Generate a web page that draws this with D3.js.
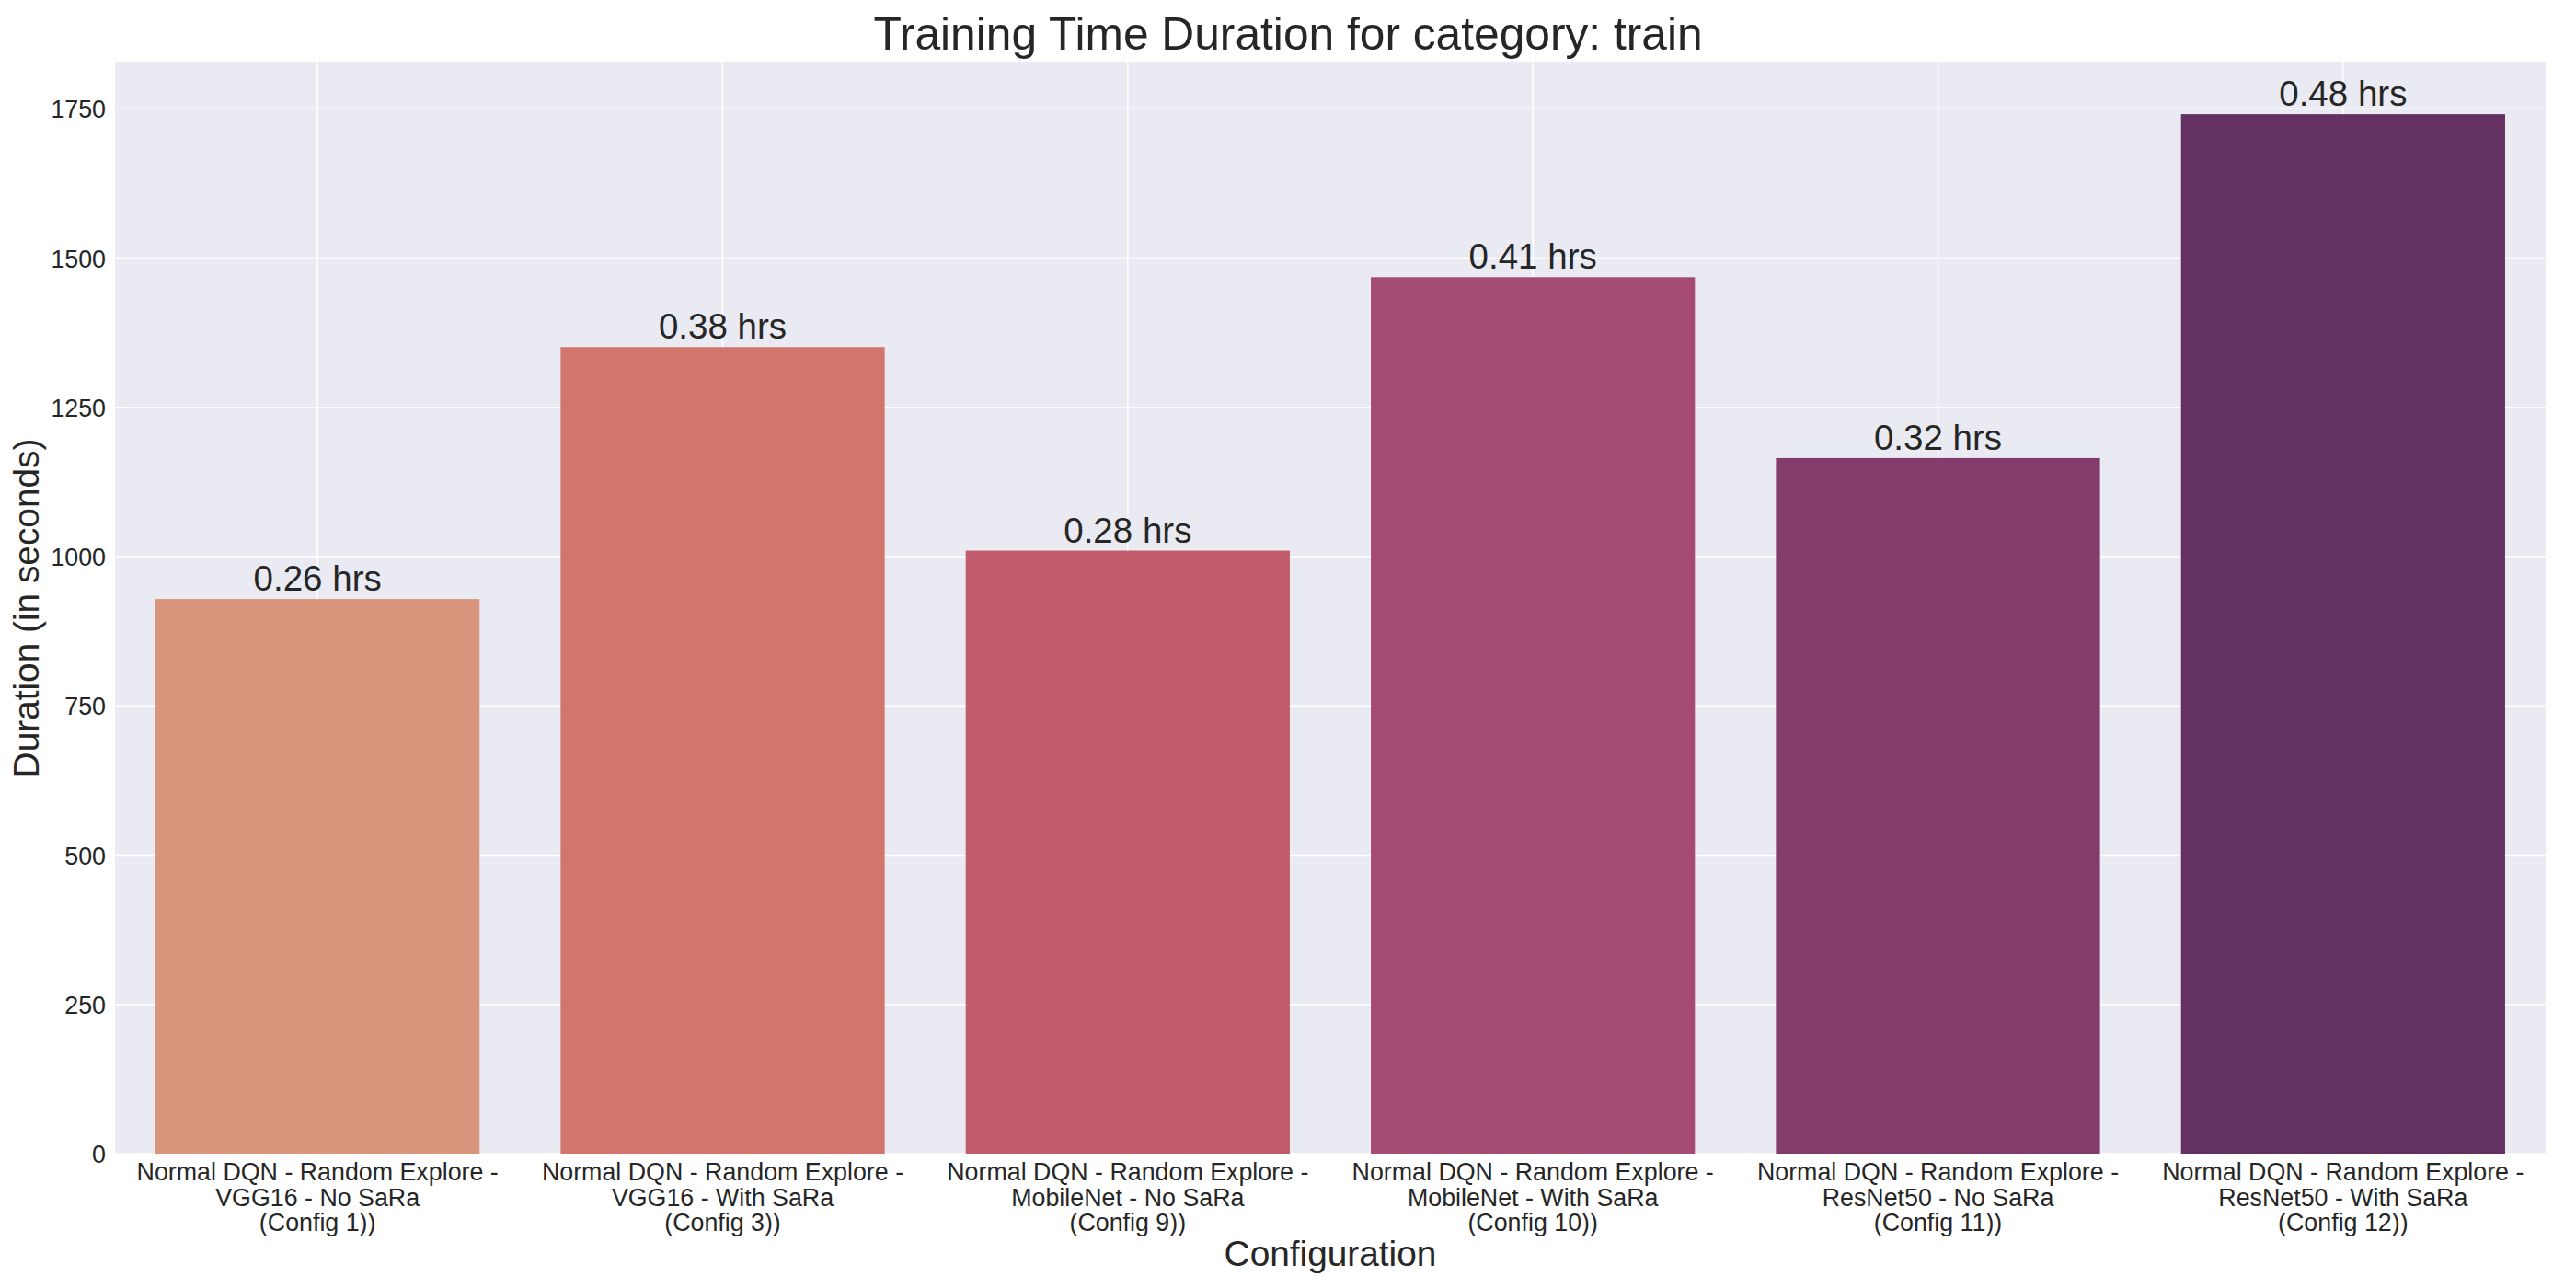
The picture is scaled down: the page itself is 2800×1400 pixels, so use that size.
<!DOCTYPE html>
<html>
<head>
<meta charset="utf-8">
<script src="https://cdn.jsdelivr.net/npm/d3@7"></script>
<style>
  body { margin: 0; background: #fff; }
  svg { display: block; font-family: "Liberation Sans", Arial, sans-serif; }
</style>
</head>
<body>
<svg width="2800" height="1400"></svg>
<script>
// config names, three lines each on the axis
const configs = [
    "Normal DQN - Random Explore -\nVGG16 - No SaRa\n(Config 1))",
    "Normal DQN - Random Explore -\nVGG16 - With SaRa\n(Config 3))",
    "Normal DQN - Random Explore -\nMobileNet - No SaRa\n(Config 9))",
    "Normal DQN - Random Explore -\nMobileNet - With SaRa\n(Config 10))",
    "Normal DQN - Random Explore -\nResNet50 - No SaRa\n(Config 11))",
    "Normal DQN - Random Explore -\nResNet50 - With SaRa\n(Config 12))"
];
// seconds
const durations = [929, 1351, 1010, 1468, 1165, 1741];
const barColors = ["#d9957b", "#d2766d", "#c05c6b", "#a34b70", "#843c6c", "#633262"];
const yTicks = [0, 250, 500, 750, 1000, 1250, 1500, 1750];

const textColor = "#262626";
const svg = d3.select("svg");

const xScale = d3
    .scaleBand()
    .domain(configs)
    .range([125, 2767])
    .paddingInner(0.2)
    .paddingOuter(0.1);

const yScale = d3
    .scaleLinear()
    .domain([0, 1829])
    .range([1254, 67]);

// plot background
svg.append("rect")
    .attr("x", 125)
    .attr("y", 67)
    .attr("width", 2767 - 125)
    .attr("height", 1254 - 67)
    .attr("fill", "#eaeaf2");

// grid
svg.selectAll(".hgrid")
    .data(yTicks)
    .enter()
    .append("line")
    .attr("class", "hgrid")
    .attr("x1", 125)
    .attr("x2", 2767)
    .attr("y1", (d) => yScale(d))
    .attr("y2", (d) => yScale(d))
    .attr("stroke", "#fff")
    .attr("stroke-width", 1.6);

svg.selectAll(".vgrid")
    .data(configs)
    .enter()
    .append("line")
    .attr("class", "vgrid")
    .attr("x1", (d) => xScale(d) + xScale.bandwidth() / 2)
    .attr("x2", (d) => xScale(d) + xScale.bandwidth() / 2)
    .attr("y1", 67)
    .attr("y2", 1254)
    .attr("stroke", "#fff")
    .attr("stroke-width", 1.6);

// bars
svg.selectAll(".bar")
    .data(durations)
    .enter()
    .append("rect")
    .attr("class", "bar")
    .attr("x", (d, i) => xScale(configs[i]))
    .attr("y", (d) => yScale(d))
    .attr("width", xScale.bandwidth())
    .attr("height", (d) => yScale(0) - yScale(d))
    .attr("fill", (d, i) => barColors[i]);

// hour labels over bars
svg.selectAll(".value")
    .data(durations)
    .enter()
    .append("text")
    .attr("class", "value")
    .attr("x", (d, i) => xScale(configs[i]) + xScale.bandwidth() / 2)
    .attr("y", (d) => yScale(d) - 9)
    .attr("text-anchor", "middle")
    .attr("font-size", 38.5)
    .attr("fill", textColor)
    .text((d) => (d / 3600).toFixed(2) + " hrs");

// y axis
const yAxis = svg.append("g")
    .attr("transform", "translate(125,0)")
    .call(d3.axisLeft(yScale).tickValues(yTicks).tickFormat(d3.format("d")).tickSize(0).tickPadding(10));
yAxis.select(".domain").remove();
yAxis.selectAll("text")
    .attr("font-size", 26.8)
    .attr("font-family", "Liberation Sans, Arial, sans-serif")
    .attr("fill", textColor)
    .attr("dy", "0.36em");

// x axis, labels split on new lines
const xAxis = svg.append("g")
    .attr("transform", "translate(0,1254)")
    .call(d3.axisBottom(xScale).tickSize(0).tickFormat(""));
xAxis.select(".domain").remove();
xAxis.selectAll(".tick text")
    .attr("font-size", 26.8)
    .attr("font-family", "Liberation Sans, Arial, sans-serif")
    .attr("fill", textColor)
    .attr("y", 0)
    .attr("dy", null)
    .each(function (d) {
        const t = d3.select(this);
        d.split("\n").forEach((line, k) => {
            t.append("tspan")
                .attr("x", 0)
                .attr("y", 29 + k * 27.5)
                .text(line);
        });
    });

// axis titles
svg.append("text")
    .attr("x", 1446)
    .attr("y", 1376)
    .attr("text-anchor", "middle")
    .attr("font-size", 38.8)
    .attr("fill", textColor)
    .text("Configuration");

svg.append("text")
    .attr("transform", "translate(42,661) rotate(-90)")
    .attr("text-anchor", "middle")
    .attr("font-size", 38.8)
    .attr("fill", textColor)
    .text("Duration (in seconds)");

svg.append("text")
    .attr("x", 1400)
    .attr("y", 54)
    .attr("text-anchor", "middle")
    .attr("font-size", 49.7)
    .attr("fill", textColor)
    .text("Training Time Duration for category: train");
</script>
</body>
</html>
